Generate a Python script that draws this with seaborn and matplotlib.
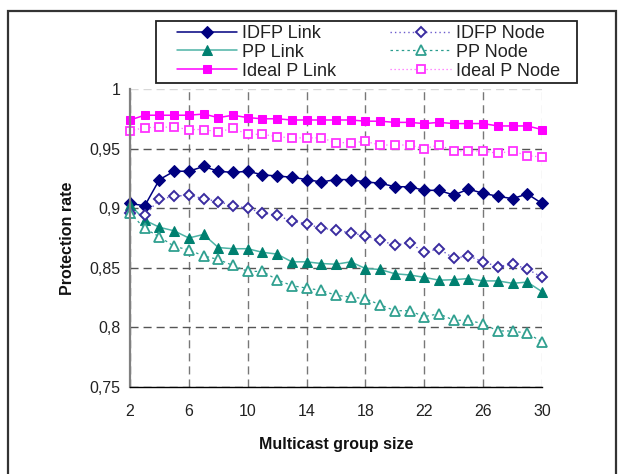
import matplotlib
matplotlib.use("Agg")
import matplotlib.pyplot as plt
from matplotlib.patches import Rectangle
import seaborn as sns
import pandas as pd

# ---- data ----
group_size = [2, 3, 4, 5, 6, 7, 8, 9, 10, 11, 12, 13, 14, 15, 16,
              17, 18, 19, 20, 21, 22, 23, 24, 25, 26, 27, 28, 29, 30]
idfp_link = [0.904, 0.902, 0.924, 0.931, 0.931, 0.935, 0.931, 0.930, 0.931, 0.928,
             0.927, 0.926, 0.924, 0.922, 0.924, 0.924, 0.922, 0.921, 0.918, 0.918,
             0.915, 0.915, 0.911, 0.916, 0.9125, 0.910, 0.908, 0.912, 0.904]
idfp_node = [0.896, 0.894, 0.9075, 0.910, 0.911, 0.908, 0.9055, 0.902, 0.900, 0.896,
             0.894, 0.889, 0.887, 0.883, 0.882, 0.879, 0.877, 0.873, 0.869, 0.871,
             0.863, 0.866, 0.858, 0.860, 0.855, 0.851, 0.853, 0.849, 0.842]
pp_link = [0.903, 0.890, 0.884, 0.881, 0.875, 0.878, 0.867, 0.866, 0.866, 0.863,
           0.8615, 0.855, 0.855, 0.8536, 0.853, 0.855, 0.8494, 0.8486, 0.845, 0.844,
           0.842, 0.8396, 0.840, 0.841, 0.839, 0.839, 0.837, 0.838, 0.830]
pp_node = [0.896, 0.883, 0.876, 0.868, 0.865, 0.860, 0.857, 0.852, 0.847, 0.847,
           0.840, 0.835, 0.833, 0.831, 0.827, 0.8255, 0.824, 0.819, 0.814, 0.814,
           0.809, 0.8115, 0.806, 0.806, 0.803, 0.797, 0.797, 0.795, 0.788]
ideal_link = [0.974, 0.978, 0.978, 0.978, 0.978, 0.979, 0.976, 0.978, 0.976, 0.975,
              0.975, 0.974, 0.974, 0.974, 0.974, 0.974, 0.973, 0.973, 0.972, 0.972,
              0.971, 0.972, 0.971, 0.971, 0.971, 0.969, 0.969, 0.969, 0.966]
ideal_node = [0.965, 0.9675, 0.968, 0.968, 0.966, 0.966, 0.964, 0.967, 0.962, 0.962,
              0.960, 0.959, 0.959, 0.959, 0.955, 0.955, 0.956, 0.953, 0.953, 0.953,
              0.950, 0.953, 0.948, 0.948, 0.948, 0.946, 0.948, 0.944, 0.943]

x_ticks = [2, 6, 10, 14, 18, 22, 26, 30]
y_ticks = [0.75, 0.8, 0.85, 0.9, 0.95, 1.0]
y_tick_labels = ["0,75", "0,8", "0,85", "0,9", "0,95", "1"]

series_names = ["IDFP Link", "PP Link", "Ideal P Link", "IDFP Node", "PP Node", "Ideal P Node"]
series_values = [idfp_link, pp_link, ideal_link, idfp_node, pp_node, ideal_node]

# ---- style ----
sns.set_style("white")
plt.rcParams["font.family"] = ["Liberation Sans", "DejaVu Sans"]

styles = {
    "IDFP Link": dict(color="#000080", marker="D", markersize=6.0, markerfacecolor="#000080",
                      markeredgecolor="#000080", linestyle="-", linewidth=1.1),
    "PP Link": dict(color="#4db3a6", marker="^", markersize=7.0, markerfacecolor="#008070",
                    markeredgecolor="#008070", linestyle="-", linewidth=1.1),
    "Ideal P Link": dict(color="#ff00ff", marker="s", markersize=6.3, markerfacecolor="#ff00ff",
                         markeredgecolor="#ff00ff", linestyle="-", linewidth=1.1),
    "IDFP Node": dict(color="#6a5acd", marker="D", markersize=5.6, markerfacecolor="white",
                      markeredgecolor="#3a2ca0", markeredgewidth=1.4, linestyle=(0, (1, 2.2)),
                      linewidth=1.0),
    "PP Node": dict(color="#2a9d8f", marker="^", markersize=7.0, markerfacecolor="white",
                    markeredgecolor="#30a090", markeredgewidth=1.3, linestyle=(0, (2, 2.5)),
                    linewidth=0.9),
    "Ideal P Node": dict(color="#ff66ff", marker="s", markersize=6.0, markerfacecolor="white",
                         markeredgecolor="#ff33ff", markeredgewidth=1.3, linestyle=(0, (1, 2.2)),
                         linewidth=0.9),
}

fig = plt.figure(figsize=(6.19, 4.74), dpi=100)
ax = fig.add_axes([130 / 619, 1 - 387 / 474, 412 / 619, 298 / 474])

handles = {}
for name, vals in zip(series_names, series_values):
    df = pd.DataFrame({"size": group_size, "rate": vals})
    sns.lineplot(data=df, x="size", y="rate", ax=ax, label=name, legend=False,
                 clip_on=False, zorder=3, **styles[name])
    handles[name] = ax.lines[-1]

ax.set_xlim(2, 30)
ax.set_ylim(0.75, 1.0)
ax.set_xticks(x_ticks)
ax.set_yticks(y_ticks)
ax.set_yticklabels(y_tick_labels)

# grid
ax.grid(True, axis="both", color="#555555", linestyle=(0, (5.8, 3.6)), linewidth=1.0)
for gl, v in zip(ax.get_ygridlines(), y_ticks):
    if v == 1.0:
        gl.set_color("#d8d8d8")
for gl, v in zip(ax.get_xgridlines(), x_ticks):
    if v == 30:
        gl.set_color("#d8d8d8")
    else:
        gl.set_color("#777777")

for s in ["top", "right"]:
    ax.spines[s].set_visible(False)
ax.spines["left"].set_color("#808080")
ax.spines["left"].set_linewidth(1.6)
ax.spines["bottom"].set_color("black")
ax.spines["bottom"].set_linewidth(1.0)
ax.spines["left"].set_zorder(4)
ax.spines["bottom"].set_zorder(4)

ax.tick_params(axis="both", direction="inout", length=7, width=1.0, color="black",
               labelsize=11.5, labelcolor="#222222")
ax.tick_params(axis="x", pad=8.5)
ax.tick_params(axis="y", pad=3.5)

ax.set_xlabel("Multicast group size", fontsize=11.5, fontweight="bold", labelpad=13, color="#111111")
ax.set_ylabel("Protection rate", fontsize=11.5, fontweight="bold", labelpad=10, color="#111111")

# legend frame (drawn separately for exact placement)
fig.patches.append(Rectangle((156 / 619, 1 - 83 / 474), 421 / 619, 62 / 474,
                             transform=fig.transFigure, facecolor="white", edgecolor="#222222",
                             linewidth=1.3, zorder=4.5))
leg = fig.legend([handles[n] for n in series_names], series_names, ncol=2, loc="upper left",
                 bbox_to_anchor=(177 / 619, 1 - 25 / 474),
                 fontsize=13, frameon=False,
                 handlelength=3.33, handletextpad=0.28, labelspacing=0.1, borderpad=0.0,
                 borderaxespad=0.0, columnspacing=3.0)
for t in leg.get_texts():
    t.set_color("#222222")

# outer frame
fig.patches.append(Rectangle((8 / 619, -0.02), 608 / 619, 1 - 11 / 474 + 0.02,
                             transform=fig.transFigure, fill=False, edgecolor="#333333",
                             linewidth=1.6, zorder=0))

fig.savefig("out.png", dpi=100)
